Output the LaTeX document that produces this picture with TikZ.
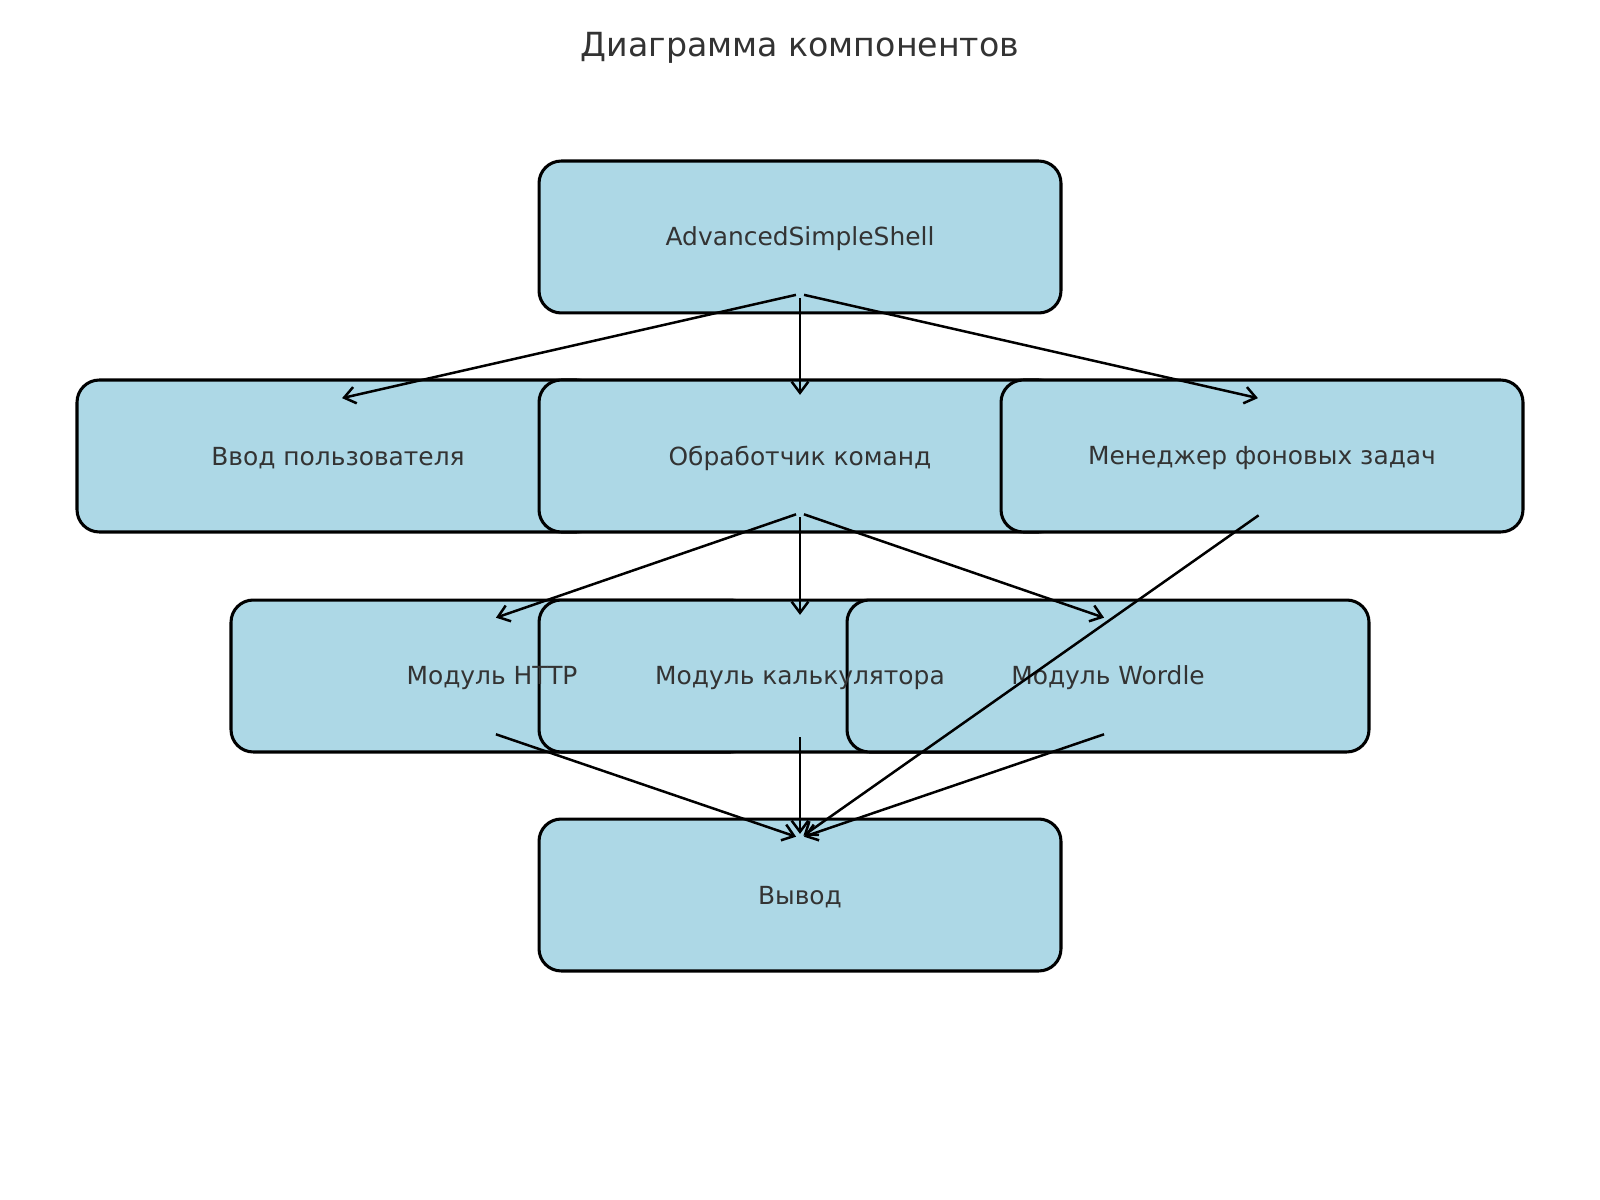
\documentclass[tikz,border=0pt]{standalone}
\usepackage{fontspec}
\setmainfont{DejaVu Sans}
\usetikzlibrary{arrows.meta}
\definecolor{boxblue}{RGB}{173,216,230}
\definecolor{textgray}{RGB}{51,51,51}

\begin{document}
\begin{tikzpicture}[x=0.72bp,y=-0.72bp,
	box/.style={draw=black, line width=2.2bp, fill=boxblue, rounded corners=16bp,
		minimum width=375.8bp, minimum height=109.4bp, inner sep=0pt, outer sep=0pt},
	lbl/.style={text=textgray, font=\fontsize{18}{22}\selectfont, yshift=-1.5bp},
	link/.style={-{Straight Barb[length=8bp,width=12bp]}, line width=1.8bp,
		shorten <=3bp, shorten >=3bp}]
		\useasboundingbox (0,0) rectangle (1600,1200);
		\node[text=textgray, font=\fontsize{24}{29}\selectfont] (title) at (800,48) {Диаграмма компонентов};
		% boxes (later ones lie over earlier ones)
		\node[box] (shell) at (800,237) {};
		\node[box] (input) at (338,456) {};
		\node[box] (handler) at (800,456) {};
		\node[box] (jobs) at (1262,456) {};
		\node[box] (http) at (492,676) {};
		\node[box] (calc) at (800,676) {};
		\node[box] (wordle) at (1108,676) {};
		\node[box] (output) at (800,895) {};
		% labels on top of all boxes
		\node[lbl] at (shell) {AdvancedSimpleShell};
		\node[lbl] at (input) {Ввод пользователя};
		\node[lbl] at (handler) {Обработчик команд};
		\node[lbl] at (jobs) {Менеджер фоновых задач};
		\node[lbl] at (http) {Модуль HTTP};
		\node[lbl] at (calc) {Модуль калькулятора};
		\node[lbl] at (wordle) {Модуль Wordle};
		\node[lbl] at (output) {Вывод};
		% arrow ends inside the boxes
		\foreach \n in {shell,input,handler,jobs,http,calc,wordle,output} {
			\coordinate (\n-out) at ([yshift=13.7bp]\n.south);
			\coordinate (\n-in) at ([yshift=-13.7bp]\n.north);
		}
		% arrows
		\draw[link] (shell-out) -- (input-in);
		\draw[link] (shell-out) -- (handler-in);
		\draw[link] (shell-out) -- (jobs-in);
		\draw[link] (handler-out) -- (http-in);
		\draw[link] (handler-out) -- (calc-in);
		\draw[link] (handler-out) -- (wordle-in);
		\draw[link] (jobs-out) -- (output-in);
		\draw[link] (http-out) -- (output-in);
		\draw[link] (calc-out) -- (output-in);
		\draw[link] (wordle-out) -- (output-in);
\end{tikzpicture}
\end{document}
